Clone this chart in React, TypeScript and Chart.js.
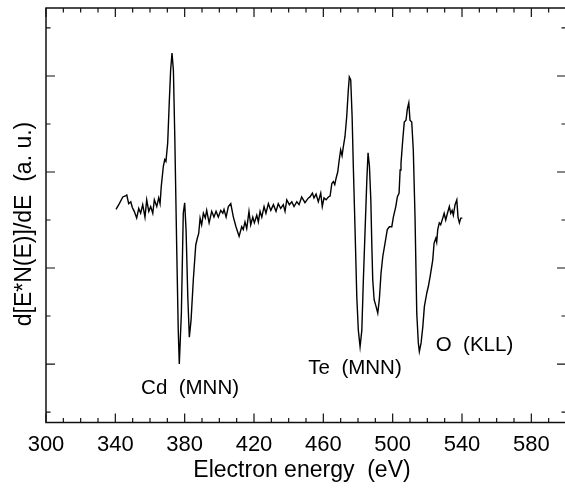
import React, { useEffect, useRef } from "react";
import { Chart, registerables } from "chart.js";

Chart.register(...registerables);

// Electron energy (eV)
const energy = [
  340.4, 342.3, 344.3, 345.8, 346.6, 347.7, 348.9, 349.8, 350.9, 352.3,
  353.5, 354.6, 355.8, 357.1, 358.1, 359.3, 360.4, 361.6, 362.5, 363.9,
  365.0, 365.8, 366.5, 367.7, 368.5, 369.2, 370.2, 371.1, 371.9, 372.7,
  373.5, 374.3, 375.4, 376.3, 376.9, 378.1, 379.2, 380.0, 380.8, 381.8,
  382.7, 383.7, 385.0, 386.4, 387.3, 388.1, 388.9, 389.8, 390.8, 391.9,
  392.7, 394.1, 395.6, 396.9, 398.1, 399.4, 400.8, 402.0, 402.7, 403.9,
  405.2, 406.6, 408.1, 409.6, 411.4, 412.9, 413.8, 414.8, 415.8, 417.1,
  418.1, 419.3, 420.2, 421.6, 422.5, 423.5, 424.5, 425.8, 426.9, 428.3,
  429.7, 431.2, 432.7, 434.0, 435.4, 436.9, 437.9, 438.9, 440.4, 441.8,
  443.1, 444.7, 446.0, 447.5, 449.4, 451.4, 452.3, 453.7, 454.6, 455.8,
  457.1, 458.5, 459.4, 460.4, 461.6, 462.9, 463.9, 464.9, 465.8, 466.6,
  467.3, 468.3, 469.2, 470.0, 470.8, 471.5, 472.5, 473.5, 474.4, 475.0,
  475.8, 476.6, 477.3, 478.3, 479.3, 480.2, 481.2, 482.2, 483.1, 484.1,
  485.1, 485.8, 486.6, 487.4, 488.0, 488.5, 489.3, 490.4, 491.4, 492.3,
  493.3, 494.3, 495.6, 496.9, 498.1, 499.5, 500.4, 501.8, 502.7, 503.7,
  504.3, 504.8, 505.8, 506.7, 507.7, 508.5, 509.3, 510.0, 511.0, 511.9,
  512.9, 513.9, 514.8, 515.4, 516.4, 517.4, 518.3, 519.7, 520.6, 521.6,
  523.1, 523.9, 524.9, 525.4, 526.0, 526.9, 527.7, 528.9, 529.7, 530.6,
  531.6, 532.7, 533.5, 534.3, 535.0, 536.0, 537.0, 537.7, 538.5, 539.3,
  540.2,
];

// d[E*N(E)]/dE (a. u.)
const signal = [
  1.61, 1.67, 1.74, 1.75, 1.76, 1.67, 1.69, 1.63, 1.59, 1.52,
  1.62, 1.57, 1.66, 1.53, 1.71, 1.59, 1.64, 1.57, 1.71, 1.64,
  1.73, 1.67, 1.85, 2.06, 2.13, 2.11, 2.30, 2.72, 3.06, 3.24,
  3.06, 2.37, 1.22, 0.35, 0.00, 0.53, 1.57, 1.68, 1.40, 0.70,
  0.28, 0.46, 0.88, 1.24, 1.31, 1.36, 1.52, 1.45, 1.57, 1.52,
  1.60, 1.47, 1.59, 1.53, 1.59, 1.53, 1.60, 1.57, 1.61, 1.53,
  1.64, 1.67, 1.53, 1.43, 1.33, 1.43, 1.40, 1.48, 1.41, 1.59,
  1.45, 1.53, 1.47, 1.55, 1.48, 1.59, 1.53, 1.64, 1.57, 1.67,
  1.60, 1.66, 1.59, 1.67, 1.62, 1.66, 1.59, 1.71, 1.66, 1.69,
  1.64, 1.69, 1.66, 1.74, 1.68, 1.73, 1.74, 1.78, 1.73, 1.77,
  1.69, 1.78, 1.64, 1.73, 1.71, 1.74, 1.75, 1.88, 1.90, 1.87,
  1.93, 2.00, 2.13, 2.23, 2.17, 2.26, 2.37, 2.58, 2.85, 2.99,
  2.96, 2.58, 2.06, 1.40, 0.70, 0.35, 0.18, 0.35, 0.88, 1.40,
  1.92, 2.20, 2.06, 1.71, 1.22, 0.88, 0.67, 0.60, 0.53, 0.67,
  0.95, 1.12, 1.26, 1.40, 1.43, 1.43, 1.53, 1.64, 1.74, 1.78,
  2.02, 2.09, 2.33, 2.52, 2.54, 2.66, 2.72, 2.54, 2.52, 2.23,
  1.53, 0.53, 0.22, 0.13, 0.22, 0.39, 0.60, 0.74, 0.81, 0.91,
  1.08, 1.26, 1.31, 1.27, 1.40, 1.47, 1.45, 1.52, 1.57, 1.50,
  1.57, 1.64, 1.57, 1.60, 1.55, 1.66, 1.71, 1.53, 1.47, 1.52,
  1.52,
];

const xTickLabels = [300, 340, 380, 420, 460, 500, 540, 580];
const xMajorTicks = [300, 340, 380, 420, 460, 500, 540, 580];
const xMinorTicks = [
  310, 320, 330, 350, 360, 370, 390, 400, 410, 430, 440, 450,
  470, 480, 490, 510, 520, 530, 550, 560, 570, 590,
];
const yMajorTicks = [0, 1, 2, 3];
const yMinorTicks = [-0.5, 0.5, 1.5, 2.5, 3.5];

const peakLabels = ["Cd  (MNN)", "Te  (MNN)", "O  (KLL)"];
const peakLabelEnergy = [383.1, 478.3, 547.2];
const peakLabelValue = [-0.31, -0.1, 0.14];

const xTitle = "Electron energy  (eV)";
const yTitle = "d[E*N(E)]/dE  (a. u.)";

const FONT = '"Liberation Sans", Arial, Helvetica, sans-serif';

const framePlugin = {
  id: "framePlugin",
  beforeDraw(chart: any) {
    const ctx = chart.ctx;
    ctx.save();
    ctx.fillStyle = "#ffffff";
    ctx.fillRect(0, 0, chart.width, chart.height);
    ctx.restore();
  },
  afterDraw(chart: any) {
    const ctx = chart.ctx;
    const { left, right, top, bottom } = chart.chartArea;
    const xs = chart.scales.x;
    const ys = chart.scales.y;
    ctx.save();
    ctx.strokeStyle = "#111111";
    ctx.lineWidth = 1.5;
    ctx.strokeRect(left, top, right - left, bottom - top);

    const major = 9;
    const minor = 4.5;
    ctx.lineWidth = 1.2;
    ctx.beginPath();
    const vTick = (v: number, len: number) => {
      const px = xs.getPixelForValue(v);
      ctx.moveTo(px, bottom);
      ctx.lineTo(px, bottom - len);
      ctx.moveTo(px, top);
      ctx.lineTo(px, top + len);
    };
    const hTick = (v: number, len: number) => {
      const py = ys.getPixelForValue(v);
      if (py < top || py > bottom) return;
      ctx.moveTo(left, py);
      ctx.lineTo(left + len, py);
      ctx.moveTo(right, py);
      ctx.lineTo(right - len, py);
    };
    xMajorTicks.forEach((v) => vTick(v, major));
    xMinorTicks.forEach((v) => vTick(v, minor));
    yMajorTicks.forEach((v) => hTick(v, major));
    yMinorTicks.forEach((v) => hTick(v, minor));
    ctx.stroke();

    ctx.fillStyle = "#000000";
    ctx.font = `22px ${FONT}`;
    ctx.textAlign = "center";
    ctx.textBaseline = "alphabetic";
    xTickLabels.forEach((v) => {
      ctx.fillText(String(v), xs.getPixelForValue(v), bottom + 28.5);
    });

    ctx.font = `23px ${FONT}`;
    ctx.fillText(xTitle, 302, bottom + 54);

    ctx.save();
    ctx.translate(31, 224);
    ctx.rotate(-Math.PI / 2);
    ctx.fillText(yTitle, 0, 0);
    ctx.restore();

    ctx.font = `20.5px ${FONT}`;
    peakLabels.forEach((t, i) => {
      ctx.fillText(
        t,
        xs.getPixelForValue(peakLabelEnergy[i]),
        ys.getPixelForValue(peakLabelValue[i])
      );
    });
    ctx.restore();
  },
};

export default function App() {
  const canvasRef = useRef<HTMLCanvasElement | null>(null);

  useEffect(() => {
    const canvas = canvasRef.current;
    if (!canvas) return;
    const chart = new Chart(canvas, {
      type: "line",
      data: {
        datasets: [
          {
            data: energy.map((e, i) => ({ x: e, y: signal[i] })),
            borderColor: "#000000",
            borderWidth: 1.4,
            pointRadius: 0,
            tension: 0,
            fill: false,
          },
        ],
      },
      options: {
        responsive: false,
        animation: false,
        devicePixelRatio: 1,
        layout: { padding: { left: 46, right: 4, top: 8, bottom: 67.5 } },
        plugins: {
          legend: { display: false },
          tooltip: { enabled: false },
        },
        scales: {
          x: { type: "linear", min: 300, max: 600, display: false },
          y: { type: "linear", min: -0.609, max: 3.708, display: false },
        },
      },
      plugins: [framePlugin],
    });
    return () => chart.destroy();
  }, []);

  return (
    <div
      style={{
        position: "absolute",
        left: 0,
        top: 0,
        width: 565,
        height: 490,
        overflow: "hidden",
        background: "#ffffff",
      }}
    >
      <canvas ref={canvasRef} width={570} height={490} style={{ display: "block" }} />
    </div>
  );
}
